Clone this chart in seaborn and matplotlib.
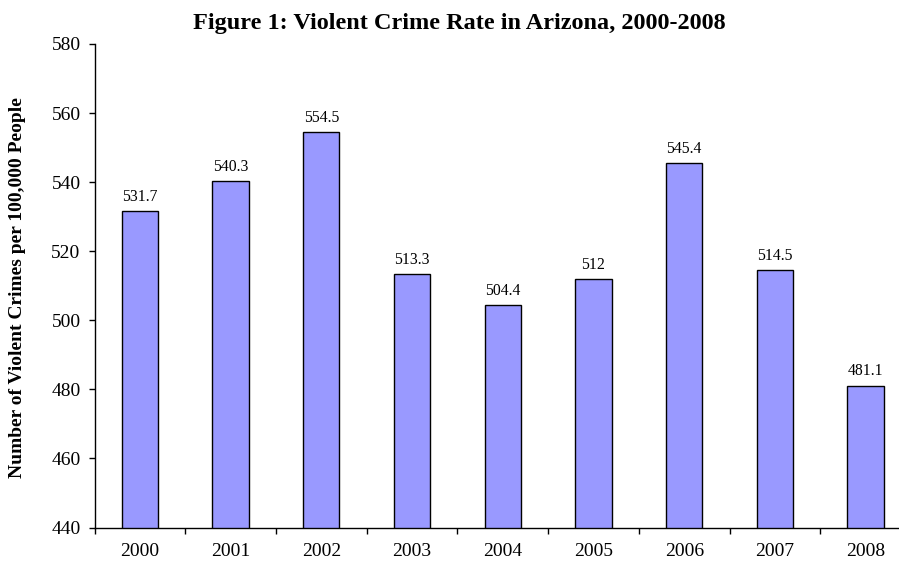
import matplotlib
matplotlib.use("Agg")
import matplotlib.pyplot as plt
import seaborn as sns
import pandas as pd
import numpy as np

years = ["2000", "2001", "2002", "2003", "2004", "2005", "2006", "2007", "2008"]
rates = [531.7, 540.3, 554.5, 513.3, 504.4, 512, 545.4, 514.5, 481.1]
rate_labels = ["531.7", "540.3", "554.5", "513.3", "504.4", "512", "545.4", "514.5", "481.1"]
y_ticks = [440, 460, 480, 500, 520, 540, 560, 580]

sns.set_theme(style="white")
plt.rcParams["font.family"] = ["Liberation Serif", "DejaVu Serif"]
plt.rcParams["text.color"] = "black"
plt.rcParams["xtick.color"] = "black"
plt.rcParams["ytick.color"] = "black"
plt.rcParams["axes.labelcolor"] = "black"

df = pd.DataFrame({"year": years, "rate": rates})

W, H = 899, 563
fig = plt.figure(figsize=(W / 100, H / 100), dpi=100)
left, right, bottom, top = 94.5, 911, 527.5, 44
ax = fig.add_axes([left / W, (H - bottom) / H, (right - left) / W, (bottom - top) / H])

sns.barplot(data=df, x="year", y="rate", ax=ax, width=0.4, color="#9999FF",
            edgecolor="black", linewidth=1.0, saturation=1)

ax.set_ylim(440, 580)
ax.set_xlim(-0.5, len(years) - 0.5)
ax.set_yticks(y_ticks)
ax.set_yticklabels([str(t) for t in y_ticks], fontsize=14, color="black")
ax.set_xticks(range(len(years)))
ax.set_xticklabels(years, fontsize=14, color="black")
ax.set_xticks(np.arange(-0.5, len(years), 1.0), minor=True)
ax.tick_params(axis="x", which="major", length=0, pad=11.5, colors="black")
ax.tick_params(axis="x", which="minor", length=4, width=1, direction="out", color="black", bottom=True)
ax.tick_params(axis="y", which="major", length=4, width=1, direction="out", pad=6, colors="black", left=True)

for s in ["top", "right"]:
    ax.spines[s].set_visible(False)
for s in ["left", "bottom"]:
    ax.spines[s].set_color("black")
    ax.spines[s].set_linewidth(1.0)

ax.set_xlabel("")
ax.set_ylabel("")

for i, (v, lab) in enumerate(zip(rates, rate_labels)):
    ax.annotate(lab, (i, v), xytext=(0, 4.5), textcoords="offset points",
                ha="center", va="bottom", fontsize=11.3, color="black")

fig.text(459 / W, 1 - 24 / H, "Figure 1: Violent Crime Rate in Arizona, 2000-2008",
         ha="center", va="center", fontsize=17.5, fontweight="bold", color="black")
fig.text(18 / W, 1 - 288 / H, "Number of Violent Crimes per 100,000 People",
         ha="center", va="center", rotation=90, fontsize=14, fontweight="bold", color="black")

fig.savefig("out.png", dpi=100)
